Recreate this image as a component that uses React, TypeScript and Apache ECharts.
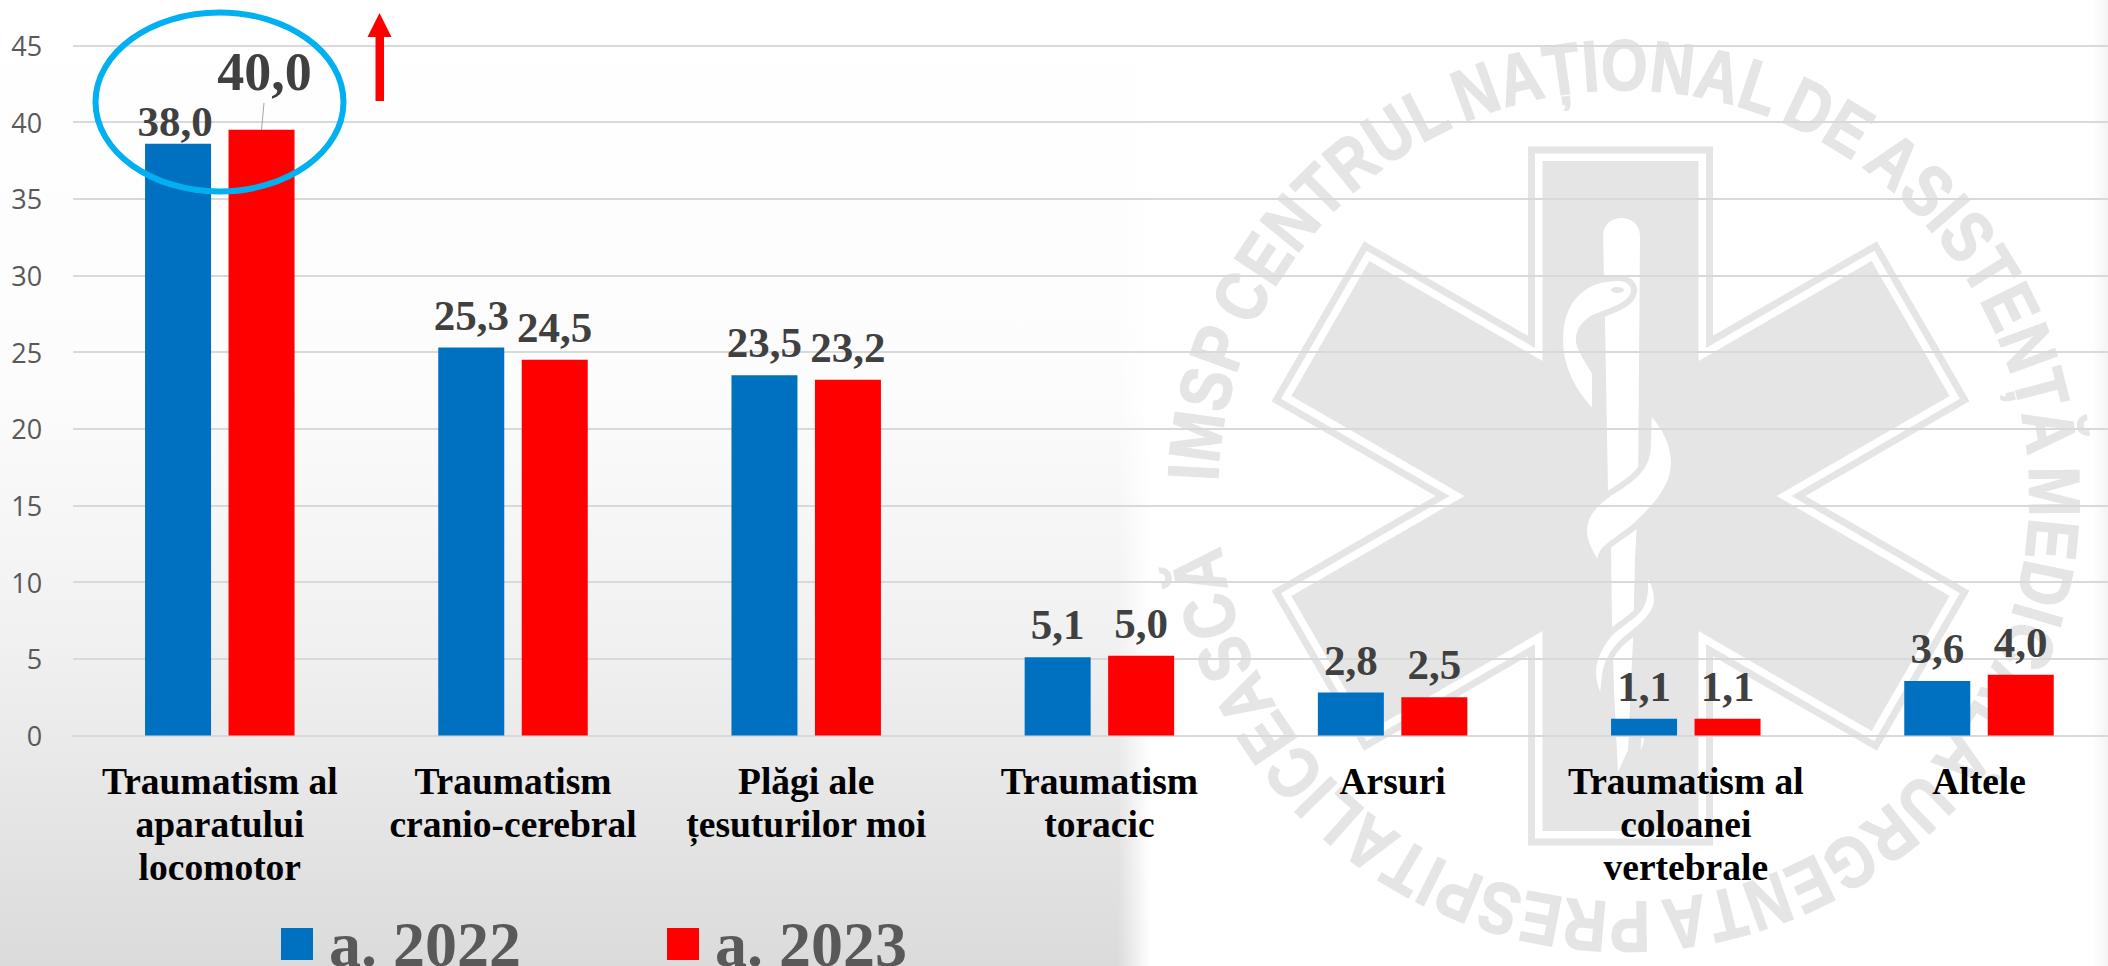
import React, { useEffect, useRef } from "react";
import * as echarts from "echarts";

const categories = [
  "Traumatism al\naparatului\nlocomotor",
  "Traumatism\ncranio-cerebral",
  "Plăgi ale\nțesuturilor moi",
  "Traumatism\ntoracic",
  "Arsuri",
  "Traumatism al\ncoloanei\nvertebrale",
  "Altele",
];
const values2022 = [38.6, 25.3, 23.5, 5.1, 2.8, 1.1, 3.55];
const values2023 = [39.5, 24.5, 23.2, 5.2, 2.5, 1.1, 3.96];
const labels2022 = ["38,0", "25,3", "23,5", "5,1", "2,8", "1,1", "3,6"];
const labels2023 = ["40,0", "24,5", "23,2", "5,0", "2,5", "1,1", "4,0"];
const seriesNames = ["a. 2022", "a. 2023"];
const ringText = "IMSP CENTRUL NAȚIONAL DE ASISTENȚĂ MEDICALĂ URGENTA PRESPITALICEASCĂ";

const SERIF = "Liberation Serif";
const WM = "#e5e5e5";
const CX = 1620.5;
const CY = 496;

const starPoints = (w: number, L: number) => {
  const pts: number[][] = [];
  for (let i = 0; i < 6; i++) {
    const a = (i * Math.PI) / 3;
    const dx = Math.sin(a), dy = -Math.cos(a);
    const px = Math.cos(a), py = Math.sin(a);
    pts.push([CX + L * dx - w * px, CY + L * dy - w * py]);
    pts.push([CX + L * dx + w * px, CY + L * dy + w * py]);
    const b = a + Math.PI / 6;
    pts.push([CX + 2 * w * Math.sin(b), CY - 2 * w * Math.cos(b)]);
  }
  return pts;
};

const rodPath =
  "M1603 236 C1603 212 1640 212 1640 236 L1638 500 L1635 560 L1633 640 L1628 750 L1618 772 L1614 690 L1612 620 L1611 550 L1608 490 L1605 320 Z";
const snakeA =
  "M1595 415 C1573 393 1560 367 1560 340 C1560 300 1583 278 1618 278 C1630 278 1637 287 1633 295 C1628 307 1607 312 1593 318 C1582 325 1578 333 1579 342 C1581 353 1590 363 1595 373 Z";
const snakeB =
  "M1649 410 C1665 425 1674 445 1674 463 C1674 490 1650 512 1633 528 C1620 538 1607 545 1603 552 C1599 558 1600 563 1601 568 C1590 555 1584 542 1584 530 C1584 515 1595 503 1610 493 C1630 480 1648 470 1648 445 Z";
const snakeC =
  "M1645 570 C1653 578 1657 590 1657 600 C1657 615 1640 628 1627 638 C1615 648 1607 660 1605 675 C1604 685 1603 695 1602 703 C1595 690 1593 680 1593 672 C1593 655 1605 635 1620 625 C1633 615 1644 610 1645 590 Z";
const snakeD = "M1647 735 C1648 745 1642 755 1634 762 C1638 752 1639 745 1638 735 Z";

echarts.graphic.registerShape("rod", echarts.graphic.extendPath(rodPath, {}));
echarts.graphic.registerShape("snakeA", echarts.graphic.extendPath(snakeA, {}));
echarts.graphic.registerShape("snakeB", echarts.graphic.extendPath(snakeB, {}));
echarts.graphic.registerShape("snakeC", echarts.graphic.extendPath(snakeC, {}));
echarts.graphic.registerShape("snakeD", echarts.graphic.extendPath(snakeD, {}));

const ringLetters = () => {
  const font = 'bold 72px "Liberation Sans"';
  const ctx = document.createElement("canvas").getContext("2d")!;
  ctx.font = font;
  const chars = Array.from(ringText);
  const widths = chars.map((c) => ctx.measureText(c).width * (c === " " ? 0.6 : 1));
  const total = widths.reduce((a, b) => a + b, 0);
  const R = 431;
  const start = (-88 * Math.PI) / 180;
  const span = (351 * Math.PI) / 180;
  const sx = (span * R * 0.93) / total;
  let cum = 0;
  return chars.flatMap((c, i) => {
    const t = start + ((cum + widths[i] / 2) / total) * span;
    cum += widths[i];
    if (c === " ") return [];
    return [
      {
        type: "text",
        z: -8,
        silent: true,
        x: CX + 3 + R * Math.sin(t),
        y: CY - R * Math.cos(t),
        rotation: -t,
        scaleX: sx,
        style: {
          text: c,
          font,
          fill: WM,
          stroke: WM,
          lineWidth: 1.5,
          align: "center",
          verticalAlign: "middle",
        },
      },
    ];
  });
};

const overrides2022: Record<number, any> = { 0: { offset: [-3, 10] } };
const overrides2023: Record<number, any> = { 0: { offset: [3, -20], fontSize: 54 } };

const barData = (vals: number[], labels: string[], over: Record<number, any>) =>
  vals.map((value, i) => ({
    value,
    label: { formatter: labels[i], ...(over[i] || {}) },
  }));

export default function App() {
  const ref = useRef<HTMLDivElement>(null);
  useEffect(() => {
    document.body.style.margin = "0";
    const chart = echarts.init(ref.current!, undefined, { renderer: "svg" });
    const barLabel = {
      show: true,
      position: "top",
      distance: 11,
      fontFamily: SERIF,
      fontWeight: "bold",
      fontSize: 43,
      color: "#404040",
    };
    chart.setOption({
      animation: false,
      backgroundColor: "#ffffff",
      grid: { left: 73.2, top: 45.5, width: 2052.4, height: 690, containLabel: false },
      legend: {
        left: 276,
        top: 907,
        itemWidth: 32,
        itemHeight: 32,
        itemGap: 146,
        icon: "rect",
        data: seriesNames,
        textStyle: {
          fontFamily: SERIF,
          fontWeight: "bold",
          fontSize: 64,
          color: "#595959",
          padding: [0, 0, 0, 11],
        },
      },
      xAxis: {
        type: "category",
        data: categories,
        axisTick: { show: false },
        axisLine: { show: true, lineStyle: { color: "#d9d9d9", width: 2 } },
        axisLabel: {
          interval: 0,
          margin: 24,
          fontFamily: SERIF,
          fontWeight: "bold",
          fontSize: 37.5,
          lineHeight: 43,
          color: "#000000",
        },
      },
      yAxis: {
        type: "value",
        min: 0,
        max: 45,
        interval: 5,
        axisLine: { show: false },
        axisTick: { show: false },
        splitLine: { show: true, lineStyle: { color: "#d9d9d9", width: 2 } },
        axisLabel: { margin: 31, fontFamily: "Open Sans", fontSize: 27, color: "#595959" },
      },
      series: [
        {
          name: seriesNames[0],
          type: "bar",
          barWidth: 66,
          barGap: "26.5%",
          itemStyle: { color: "#0070c0" },
          label: barLabel,
          data: barData(values2022, labels2022, overrides2022),
        },
        {
          name: seriesNames[1],
          type: "bar",
          barWidth: 66,
          itemStyle: { color: "#ff0000" },
          label: barLabel,
          data: barData(values2023, labels2023, overrides2023),
        },
      ],
      graphic: {
        elements: [
          {
            type: "rect",
            z: -20,
            silent: true,
            shape: { x: 0, y: 0, width: 1150, height: 966 },
            style: {
              fill: {
                type: "linear",
                x: 0, y: 0, x2: 0, y2: 1,
                colorStops: [
                  { offset: 0, color: "#ffffff" },
                  { offset: 0.4, color: "#fcfcfc" },
                  { offset: 0.66, color: "#f1f1f1" },
                  { offset: 1, color: "#dbdbdb" },
                ],
              },
            },
          },
          {
            type: "rect",
            z: -19,
            silent: true,
            shape: { x: 1118, y: 0, width: 32, height: 966 },
            style: {
              fill: {
                type: "linear",
                x: 0, y: 0, x2: 1, y2: 0,
                colorStops: [
                  { offset: 0, color: "rgba(255,255,255,0)" },
                  { offset: 1, color: "rgba(255,255,255,1)" },
                ],
              },
            },
          },
          {
            type: "rect",
            z: -19,
            silent: true,
            shape: { x: 2092, y: 0, width: 16, height: 966 },
            style: {
              fill: {
                type: "linear",
                x: 0, y: 0, x2: 1, y2: 0,
                colorStops: [
                  { offset: 0, color: "#ffffff" },
                  { offset: 1, color: "#f4f4f4" },
                ],
              },
            },
          },
          ...ringLetters(),
          {
            type: "polygon",
            z: -8,
            silent: true,
            shape: { points: starPoints(89, 346) },
            style: { fill: "none", stroke: WM, lineWidth: 7 },
          },
          {
            type: "polygon",
            z: -8,
            silent: true,
            shape: { points: starPoints(78, 335) },
            style: { fill: WM },
          },
          { type: "rod", z: -7, silent: true, style: { fill: "#ffffff" } },
          ...["snakeA", "snakeB", "snakeC", "snakeD"].map((t) => ({
            type: t,
            z: -6,
            silent: true,
            style: { fill: "#ffffff", stroke: WM, lineWidth: 6 },
          })),
          {
            type: "ellipse",
            z: -5,
            silent: true,
            shape: { cx: 1617.5, cy: 290, rx: 6.5, ry: 3 },
            style: { fill: WM },
          },
          {
            type: "ellipse",
            z: 100,
            silent: true,
            shape: { cx: 219.5, cy: 102, rx: 124, ry: 89.5 },
            style: { fill: "none", stroke: "#00b0f0", lineWidth: 6 },
          },
          {
            type: "polygon",
            z: 100,
            silent: true,
            shape: {
              points: [
                [379.5, 13],
                [391.5, 37],
                [384, 37],
                [384, 101],
                [375.5, 101],
                [375.5, 37],
                [367.5, 37],
              ],
            },
            style: { fill: "#ff0000" },
          },
          {
            type: "line",
            z: 100,
            silent: true,
            shape: { x1: 264, y1: 103, x2: 261.5, y2: 130 },
            style: { stroke: "#a6a6a6", lineWidth: 1 },
          },
        ],
      },
    });
    return () => chart.dispose();
  }, []);
  return (
    <div style={{ position: "absolute", left: 0, top: 0, width: 2108, height: 966, overflow: "hidden" }}>
      <div ref={ref} style={{ width: 2140, height: 966 }} />
    </div>
  );
}
